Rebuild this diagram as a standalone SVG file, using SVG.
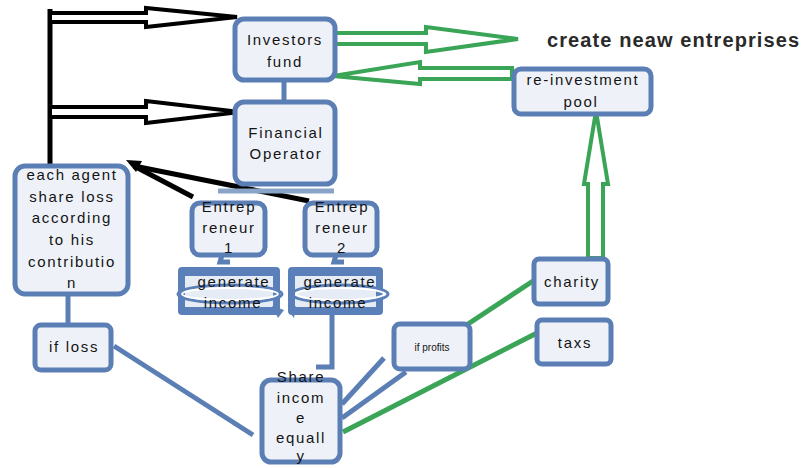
<svg xmlns="http://www.w3.org/2000/svg" width="805" height="468" viewBox="0 0 805 468">
  <style>
    .box { fill: #eef2f8; stroke: #5b7fb5; stroke-width: 5; }
    .t { font-family: "Liberation Sans", Arial, sans-serif; font-size: 15px; fill: #141414; text-anchor: middle; letter-spacing: 1.7px; }
    .small { font-size: 10px; letter-spacing: 0; }
    .head { font-family: "Liberation Sans", Arial, sans-serif; font-size: 20px; font-weight: bold; fill: #2a2a2a; letter-spacing: 1.1px; }
    .blk { stroke: #000; stroke-width: 5; fill: none; stroke-linecap: butt; }
    .blkArrow { fill: #fff; stroke: #000; stroke-width: 4; stroke-linejoin: miter; }
    .grn { stroke: #3aa457; stroke-width: 5; fill: none; }
    .grnArrow { fill: #fff; stroke: #3aa457; stroke-width: 4; stroke-linejoin: miter; }
    .blu { stroke: #5b7fb5; stroke-width: 5; fill: none; }
    .band { fill: #5b80b9; }
    .inner { fill: #e6ecf5; }
  </style>

  <rect width="805" height="468" fill="#ffffff"/>

  <!-- connectors -->
  <g id="connectors">
    <!-- black loss-sharing spine and its two block arrows -->
    <line class="blk" x1="50" y1="9" x2="50" y2="168"/>
    <polygon class="blkArrow" points="50,13 146,13 146,8 237,17 146,27 146,22 50,22"/>
    <polygon class="blkArrow" points="50,107 146,107 146,101 240,112 146,123 146,117 50,117"/>
    <!-- entrepreneurs back to the loss box -->
    <line class="blk" x1="134" y1="166" x2="193" y2="197"/>
    <line class="blk" x1="134" y1="166" x2="309" y2="201"/>
    <polygon points="126,160 142,161 136,172" fill="#000"/>

    <!-- blue links -->
    <line class="blu" x1="284" y1="80" x2="284" y2="100"/>
    <line x1="218" y1="191" x2="334" y2="191" stroke="#8aa4c8" stroke-width="5"/>
    <line class="blu" x1="68" y1="294" x2="68" y2="325"/>
    <polyline class="blu" points="332,314 332,367 316,367"/>
    <line class="blu" x1="114" y1="346" x2="253" y2="435"/>
    <line class="blu" x1="342" y1="404" x2="384" y2="358"/>
    <line class="blu" x1="342" y1="418" x2="406" y2="372"/>

    <!-- green profit flows -->
    <line class="grn" x1="343" y1="432" x2="537" y2="333"/>
    <line class="grn" x1="468" y1="324" x2="533" y2="281"/>
    <polygon class="grnArrow" points="335,33 426,33 426,27 518,39 426,52 426,44 335,44"/>
    <polygon class="grnArrow" points="512,68 420,68 420,62 333,76 420,84 420,79 512,79"/>
    <polygon class="grnArrow" points="588,258 588,184 584,184 596,111 608,184 603,184 603,258"/>
  </g>

  <g id="investors-fund">
    <rect class="box" x="235" y="19" width="100" height="61" rx="9"/>
    <text class="t" x="285" y="45">Investors</text>
    <text class="t" x="285" y="67">fund</text>
  </g>

  <g id="financial-operator">
    <rect class="box" x="235" y="102" width="100" height="82" rx="9"/>
    <text class="t" x="286" y="138">Financial</text>
    <text class="t" x="286" y="159">Operator</text>
  </g>

  <g id="each-agent">
    <rect class="box" x="15" y="166" width="113" height="128" rx="10"/>
    <text class="t" x="72" y="180">each agent</text>
    <text class="t" x="72" y="202">share loss</text>
    <text class="t" x="72" y="223">according</text>
    <text class="t" x="72" y="245">to his</text>
    <text class="t" x="72" y="267">contributio</text>
    <text class="t" x="72" y="288">n</text>
  </g>

  <g id="entrepreneur-1">
    <rect class="box" x="192" y="203" width="73" height="52" rx="8"/>
    <path class="blu" d="M222,255 L220,262 L230,262"/>
    <text class="t" x="229" y="212">Entrep</text>
    <text class="t" x="229" y="233">reneur</text>
    <text class="t" x="229" y="253">1</text>
  </g>

  <g id="entrepreneur-2">
    <rect class="box" x="305" y="203" width="72" height="52" rx="8"/>
    <path class="blu" d="M336,255 L334,262 L344,262"/>
    <text class="t" x="342" y="212">Entrep</text>
    <text class="t" x="342" y="233">reneur</text>
    <text class="t" x="342" y="253">2</text>
  </g>

  <g id="generate-income-1">
    <rect class="band" x="178" y="267" width="102" height="48" rx="4"/>
    <rect class="inner" x="185" y="276" width="88" height="31"/>
    <ellipse cx="230" cy="294" rx="52" ry="9" fill="none" stroke="#5b80b9" stroke-width="3"/>
    <ellipse cx="230" cy="294" rx="48" ry="6" fill="none" stroke="#ffffff" stroke-width="2"/>
    <path d="M272,306 L284,310 L278,318 Z" fill="#5b80b9"/>
    <text class="t" x="234" y="287">generate</text>
    <text class="t" x="233" y="308">income</text>
  </g>

  <g id="generate-income-2">
    <rect class="band" x="288" y="267" width="95" height="48" rx="4"/>
    <rect class="inner" x="295" y="276" width="81" height="31"/>
    <ellipse cx="340" cy="294" rx="48" ry="9" fill="none" stroke="#5b80b9" stroke-width="3"/>
    <ellipse cx="340" cy="294" rx="44" ry="6" fill="none" stroke="#ffffff" stroke-width="2"/>
    <path d="M296,306 L288,310 L294,318 Z" fill="#5b80b9"/>
    <text class="t" x="340" y="287">generate</text>
    <text class="t" x="338" y="308">income</text>
  </g>

  <g id="if-loss">
    <rect class="box" x="35" y="325" width="76" height="45" rx="6"/>
    <text class="t" x="74" y="352">if loss</text>
  </g>

  <g id="share-income">
    <rect class="box" x="262" y="380" width="78" height="82" rx="9"/>
    <text class="t" x="301" y="382">Share</text>
    <text class="t" x="301" y="403">incom</text>
    <text class="t" x="301" y="423">e</text>
    <text class="t" x="301" y="443">equall</text>
    <text class="t" x="301" y="461">y</text>
  </g>

  <g id="if-profits">
    <rect class="box" x="394" y="324" width="76" height="45" rx="6"/>
    <text class="t small" x="432" y="351">if profits</text>
  </g>

  <g id="charity">
    <rect class="box" x="534" y="259" width="74" height="45" rx="5"/>
    <text class="t" x="572" y="287">charity</text>
  </g>

  <g id="taxs">
    <rect class="box" x="537" y="320" width="74" height="44" rx="5"/>
    <text class="t" x="575" y="348">taxs</text>
  </g>

  <g id="reinvestment-pool">
    <rect class="box" x="514" y="69" width="137" height="45" rx="7"/>
    <text class="t" x="583" y="85">re-investment</text>
    <text class="t" x="581" y="107">pool</text>
  </g>

  <g id="create-new">
    <text class="head" x="547" y="47">create neaw entreprises</text>
  </g>
</svg>
